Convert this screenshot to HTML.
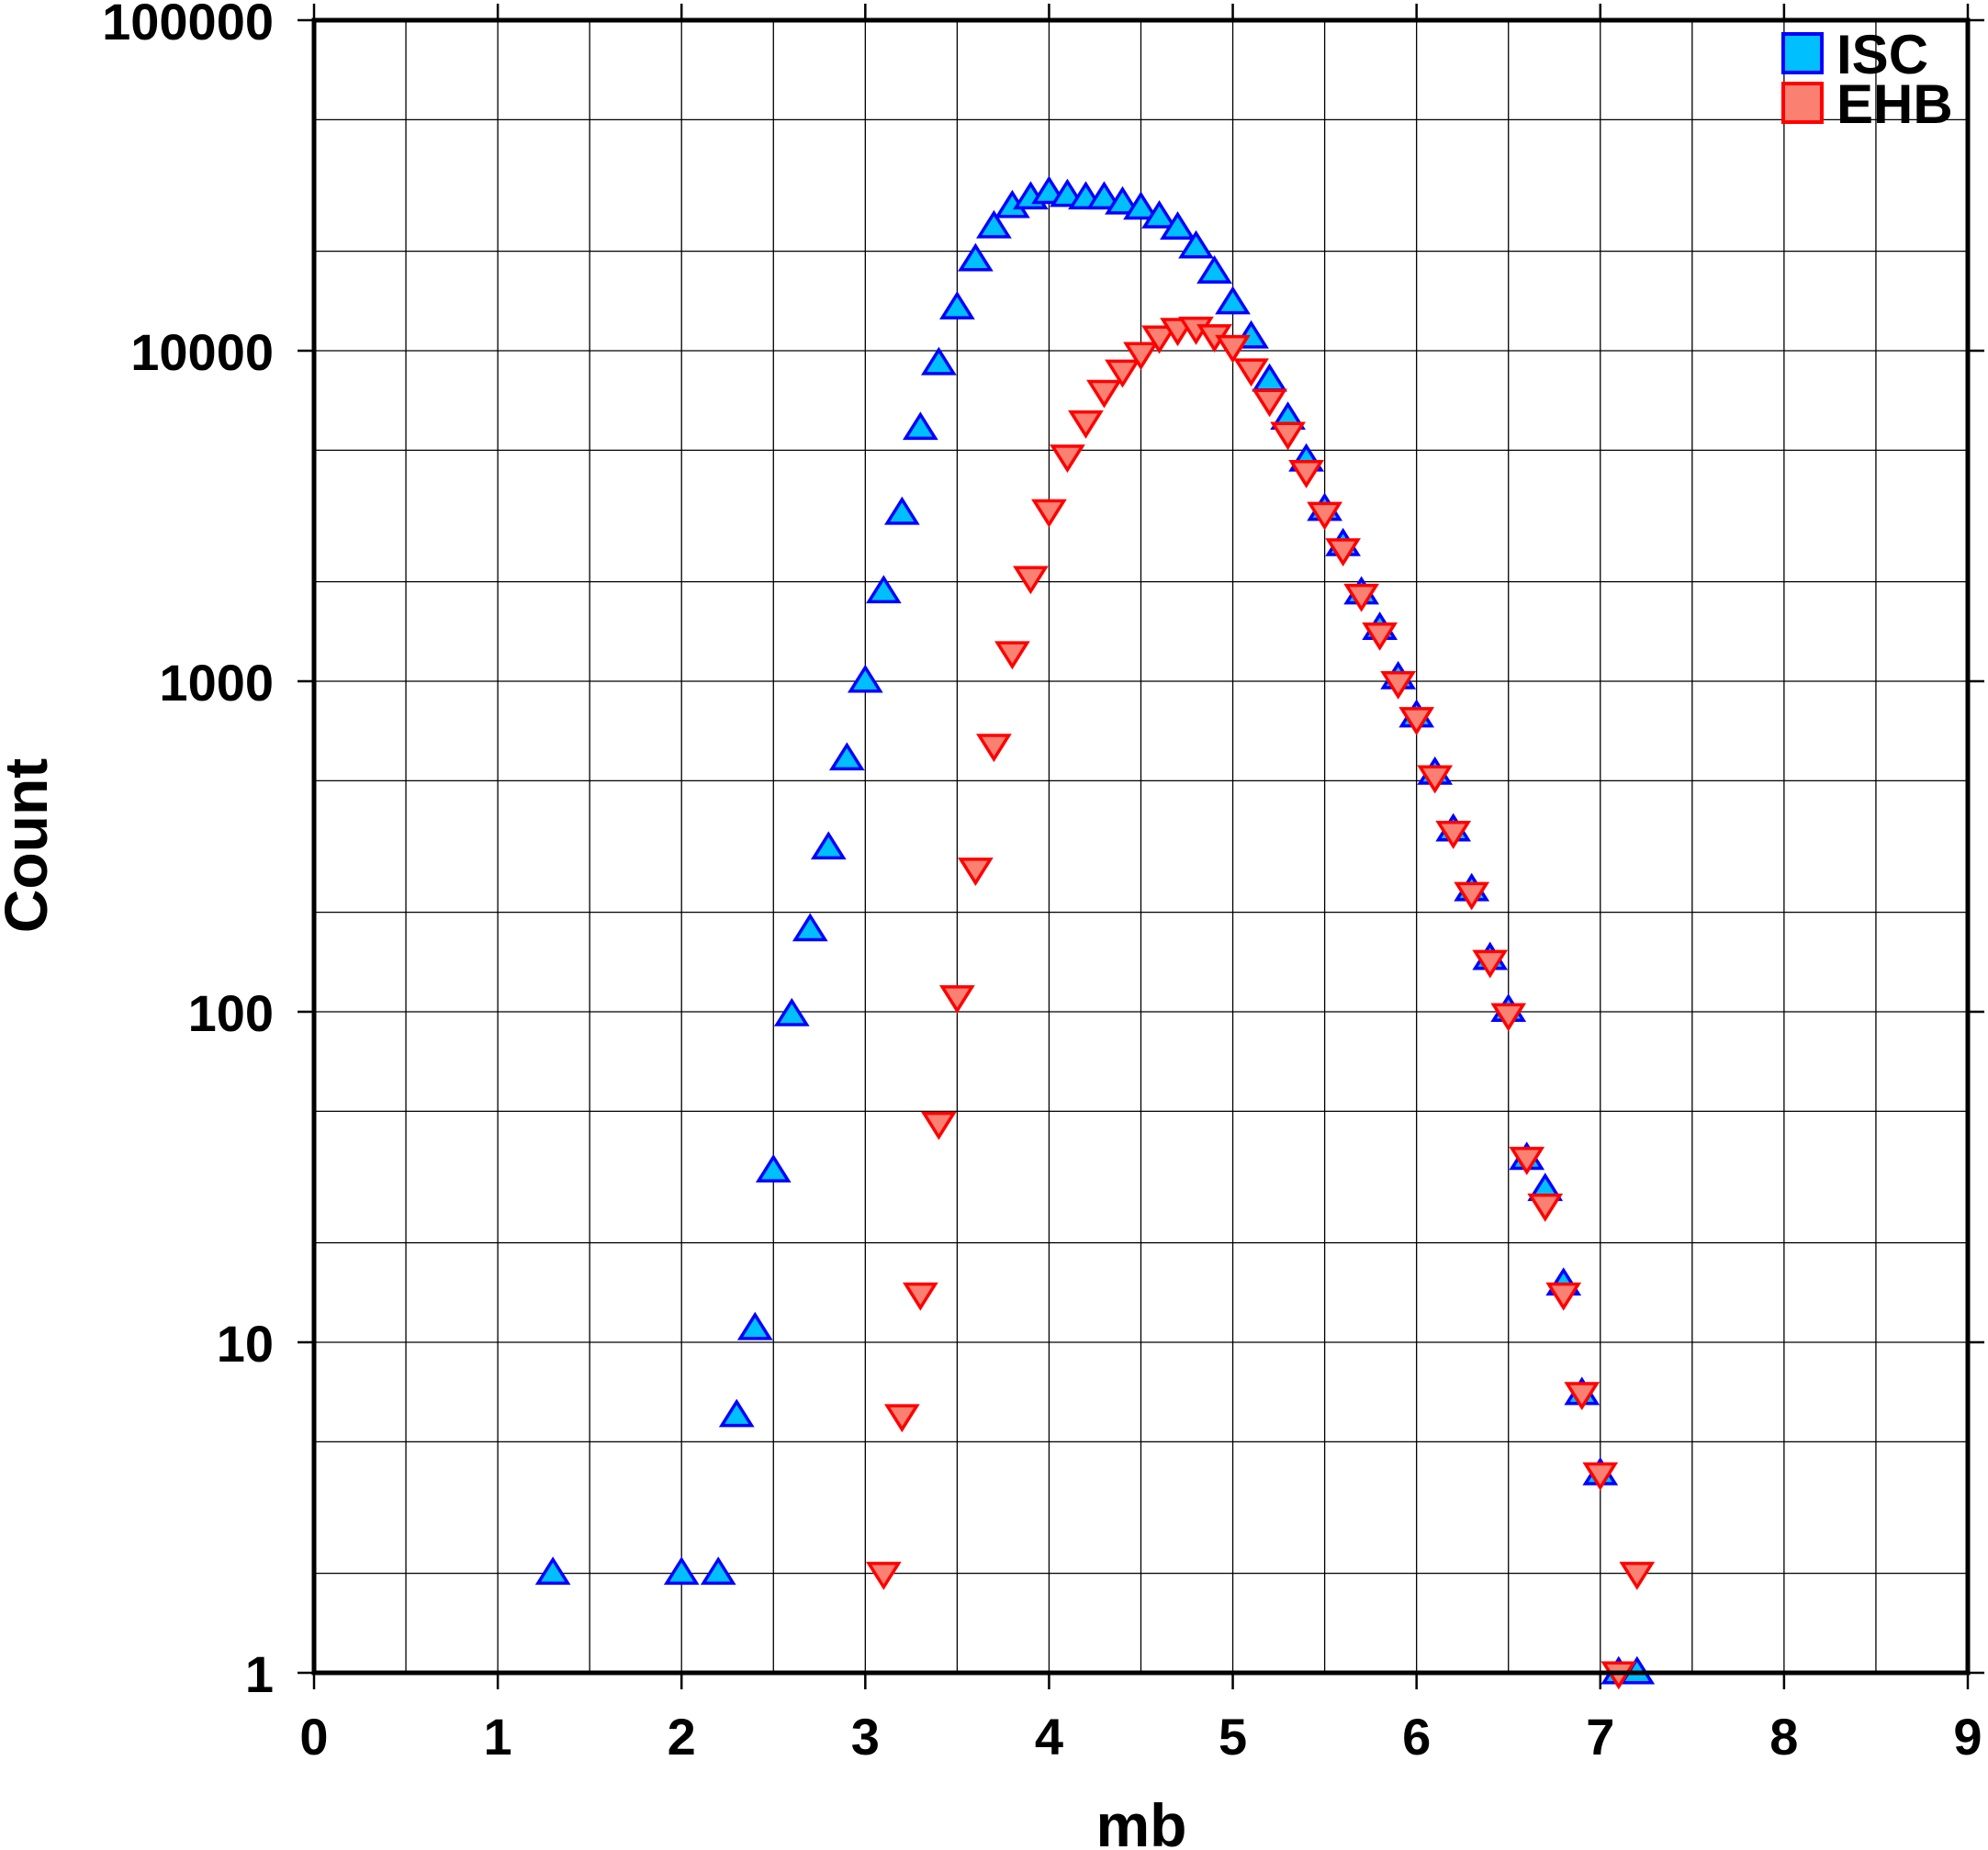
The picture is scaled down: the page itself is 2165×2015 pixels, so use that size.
<!DOCTYPE html>
<html><head><meta charset="utf-8"><style>html,body{margin:0;padding:0;background:#fff}svg{display:block}text{font-family:"Liberation Sans",Arial,sans-serif;font-weight:bold}</style></head>
<body>
<svg id="chart" width="2165" height="2015" viewBox="0 0 2165 2015" xmlns="http://www.w3.org/2000/svg">
<g id="grid"></g>
<g id="marks"></g>
<g id="axes"></g>
<text x="28" y="921" font-size="66" text-anchor="middle" transform="rotate(-90 28 921)" dominant-baseline="central">Count</text>
<text x="1243" y="2011" font-size="66" text-anchor="middle">mb</text>
<g>
<rect x="1942" y="37" width="42" height="42" fill="#00bfff" stroke="#0000ff" stroke-width="4"/>
<text x="2000" y="80" font-size="60">ISC</text>
<rect x="1942" y="91" width="42" height="42" fill="#fa8072" stroke="#ff0000" stroke-width="4"/>
<text x="2000" y="134" font-size="60">EHB</text>
</g>
</svg>
<script>
const iscX = [1.3,2.0,2.2,2.3,2.4,2.5,2.6,2.7,2.8,2.9,3.0,3.1,3.2,3.3,3.4,3.5,3.6,3.7,3.8,3.9,4.0,4.1,4.2,4.3,4.4,4.5,4.6,4.7,4.8,4.9,5.0,5.1,5.2,5.3,5.4,5.5,5.6,5.7,5.8,5.9,6.0,6.1,6.2,6.3,6.4,6.5,6.6,6.7,6.8,6.9,7.0,7.1,7.2];
const iscCounts = [2,2,2,6,11,33,98,177,313,582,1000,1865,3222,5820,9140,13480,18840,23700,27300,29000,30100,29500,29000,29000,28000,27000,25400,23500,20600,17300,13960,11000,8150,6250,4670,3310,2590,1850,1445,1025,785,527,355,234,145,101,36,29,15,7,4,1,1];
const ehbX = [3.1,3.2,3.3,3.4,3.5,3.6,3.7,3.8,3.9,4.0,4.1,4.2,4.3,4.4,4.5,4.6,4.7,4.8,4.9,5.0,5.1,5.2,5.3,5.4,5.5,5.6,5.7,5.8,5.9,6.0,6.1,6.2,6.3,6.4,6.5,6.6,6.7,6.8,6.9,7.0,7.1,7.2];
const ehbCounts = [2,6,14,46,111,270,640,1220,2060,3280,4800,6090,7530,8680,9810,11000,11600,11700,11100,10300,8750,7080,5620,4310,3220,2500,1820,1390,990,771,514,349,228,142,98,36,26,14,7,4,1,2];
const xTicks = [0,1,2,3,4,5,6,7,8,9];
const yTicks = [1,10,100,1000,10000,100000];
const yTickLabels = ["1","10","100","1000","10000","100000"];

const NS="http://www.w3.org/2000/svg";
const L=342,R=2143,T=22,B=1822;
const xMin=0,xMax=9,yMinLog=0,yMaxLog=5;
function sx(v){return L+(v-xMin)/(xMax-xMin)*(R-L);}
function sy(v){return B-(Math.log10(v)-yMinLog)/(yMaxLog-yMinLog)*(B-T);}
function mk(tag,attrs,parent){const e=document.createElementNS(NS,tag);for(const k in attrs)e.setAttribute(k,attrs[k]);parent.appendChild(e);return e;}
const grid=document.getElementById('grid'),axes=document.getElementById('axes'),marks=document.getElementById('marks');
for(let v=0.5;v<9;v+=0.5){const l=mk('line',{x1:sx(v),x2:sx(v),y1:T,y2:B,stroke:'#000','stroke-width':1.3},grid);

}
for(let d=0;d<5;d++){for(const m of [1,2,5]){const v=m*Math.pow(10,d);if(d===0&&m===1)continue;const l=mk('line',{x1:L,x2:R,y1:sy(v),y2:sy(v),stroke:'#000','stroke-width':1.3},grid);

}}
function tri(x,y,up,fill,stroke,name){const s=15;const p=up?[[x,y-s],[x-s*1.08,y+s*0.72],[x+s*1.08,y+s*0.72]]:[[x,y+s],[x-s*1.08,y-s*0.72],[x+s*1.08,y-s*0.72]];
const e=mk('polygon',{points:p.map(q=>q.join(',')).join(' '),fill:fill,stroke:stroke,'stroke-width':3.5},marks);

}
iscX.forEach((x,i)=>tri(sx(x),sy(iscCounts[i]),true,'#00bfff','#0000ff','isc-point'));
ehbX.forEach((x,i)=>tri(sx(x),sy(ehbCounts[i]),false,'#fa8072','#ff0000','ehb-point'));
const fr=mk('rect',{x:L,y:T,width:R-L,height:B-T,fill:'none',stroke:'#000','stroke-width':5},axes);


xTicks.forEach(v=>{const x=sx(v);
const t=mk('line',{x1:x,x2:x,y1:B,y2:B+18,stroke:'#000','stroke-width':2.5},axes);


const t2=mk('line',{x1:x,x2:x,y1:T,y2:T-18,stroke:'#000','stroke-width':2.5},axes);


const lb=mk('text',{x:x,y:1911,'font-size':56,'text-anchor':'middle'},axes);lb.textContent=String(v);

});
yTicks.forEach((v,i)=>{const y=sy(v);
const t=mk('line',{x1:L-18,x2:L,y1:y,y2:y,stroke:'#000','stroke-width':2.5},axes);


const t2=mk('line',{x1:R,x2:R+18,y1:y,y2:y,stroke:'#000','stroke-width':2.5},axes);


const lb=mk('text',{x:298,y:y+21,'font-size':56,'text-anchor':'end'},axes);lb.textContent=yTickLabels[i];

});
</script>
</body></html>
